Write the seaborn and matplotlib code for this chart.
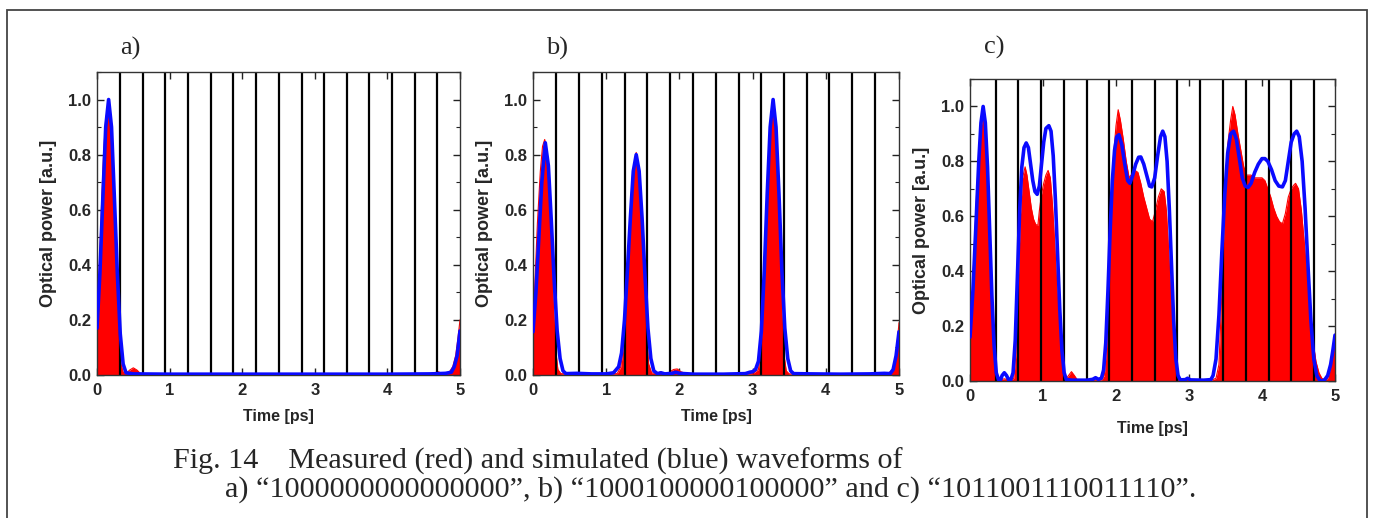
import numpy as np
import pandas as pd
import matplotlib
matplotlib.use("Agg")
import matplotlib.pyplot as plt
import seaborn as sns
from matplotlib.patches import Rectangle
from matplotlib.ticker import MultipleLocator

# ---------------- data ----------------
panel_labels = ["a)", "b)", "c)"]

# panel a -- simulated (blue)
a_sim_t = [0.00, 0.04, 0.08, 0.12, 0.16, 0.20, 0.24, 0.28, 0.32, 0.36, 0.40, 0.50,
           1.00, 2.00, 3.00, 4.00, 4.60, 4.80, 4.88, 4.92, 4.96, 5.00]
a_sim_v = [0.17, 0.37, 0.64, 0.90, 1.00, 0.90, 0.64, 0.37, 0.15, 0.04, 0.008, 0.004,
           0.003, 0.003, 0.003, 0.003, 0.004, 0.006, 0.01, 0.03, 0.07, 0.16]
# panel a -- measured (red)
a_meas_t = [0.00, 0.03, 0.06, 0.09, 0.12, 0.15, 0.18, 0.21, 0.24, 0.27, 0.30, 0.33,
            0.36, 0.40, 0.45, 0.50, 0.55, 0.60, 0.70, 1.50, 2.00, 3.00, 4.00, 4.50,
            4.65, 4.70, 4.75, 4.85, 4.90, 4.94, 4.97, 5.00]
a_meas_v = [0.19, 0.38, 0.60, 0.80, 0.93, 0.97, 0.90, 0.72, 0.50, 0.30, 0.13, 0.04,
            0.01, 0.005, 0.018, 0.026, 0.018, 0.005, 0.002, 0.003, 0.002, 0.002, 0.002, 0.003,
            0.008, 0.012, 0.006, 0.01, 0.03, 0.07, 0.13, 0.20]

# panel b -- simulated (blue)
b_sim_t = [0.00, 0.04, 0.08, 0.12, 0.168, 0.21, 0.25, 0.29, 0.33, 0.37, 0.41, 0.45,
           0.60, 0.80, 1.00, 1.10, 1.17, 1.21, 1.25, 1.29, 1.33, 1.37, 1.41, 1.45,
           1.49, 1.53, 1.57, 1.61, 1.65, 1.70, 1.75, 1.80, 1.90, 1.95, 2.00, 2.20,
           2.60, 2.90, 2.96, 3.00, 3.04, 3.08, 3.12, 3.16, 3.20, 3.24, 3.28, 3.32,
           3.36, 3.40, 3.44, 3.48, 3.52, 3.56, 3.80, 4.20, 4.60, 4.80, 4.88, 4.92,
           4.96, 5.00]
b_sim_v = [0.157, 0.30, 0.50, 0.70, 0.843, 0.76, 0.56, 0.34, 0.16, 0.06, 0.015, 0.005,
           0.006, 0.004, 0.004, 0.008, 0.03, 0.08, 0.20, 0.38, 0.57, 0.74, 0.80, 0.74,
           0.57, 0.36, 0.17, 0.06, 0.015, 0.005, 0.008, 0.004, 0.006, 0.01, 0.006, 0.003,
           0.003, 0.005, 0.01, 0.012, 0.02, 0.05, 0.16, 0.38, 0.66, 0.90, 1.00, 0.90,
           0.66, 0.38, 0.17, 0.06, 0.015, 0.005, 0.004, 0.003, 0.004, 0.006, 0.005, 0.02,
           0.07, 0.157]
# panel b -- measured (red)
b_meas_t = [0.00, 0.03, 0.06, 0.10, 0.13, 0.16, 0.19, 0.22, 0.25, 0.28, 0.31, 0.34,
            0.38, 0.50, 0.65, 0.70, 1.00, 1.15, 1.20, 1.24, 1.28, 1.32, 1.36, 1.41,
            1.45, 1.49, 1.52, 1.55, 1.58, 1.62, 1.70, 1.74, 1.78, 1.85, 1.92, 1.97,
            2.02, 2.10, 2.50, 2.90, 3.00, 3.08, 3.12, 3.16, 3.20, 3.24, 3.28, 3.31,
            3.34, 3.37, 3.40, 3.43, 3.46, 3.50, 4.00, 4.50, 4.85, 4.92, 4.95, 4.98, 5.00]
b_meas_v = [0.19, 0.36, 0.55, 0.74, 0.83, 0.855, 0.80, 0.64, 0.44, 0.24, 0.09, 0.02,
            0.005, 0.003, 0.006, 0.004, 0.003, 0.005, 0.03, 0.12, 0.32, 0.55, 0.73, 0.808,
            0.74, 0.55, 0.35, 0.15, 0.04, 0.008, 0.005, 0.012, 0.006, 0.008, 0.02, 0.022,
            0.012, 0.004, 0.003, 0.004, 0.005, 0.02, 0.12, 0.36, 0.66, 0.90, 0.99, 0.92,
            0.72, 0.46, 0.22, 0.07, 0.015, 0.004, 0.003, 0.004, 0.006, 0.02, 0.06, 0.13, 0.19]

# panel c -- simulated (blue)
c_sim_t = [0.00, 0.04, 0.08, 0.12, 0.15, 0.18, 0.21, 0.24, 0.27, 0.30, 0.33, 0.36,
           0.39, 0.42, 0.44, 0.47, 0.50, 0.53, 0.56, 0.59, 0.62, 0.65, 0.68, 0.71,
           0.74, 0.77, 0.80, 0.83, 0.86, 0.89, 0.92, 0.95, 0.98, 1.01, 1.04, 1.08,
           1.11, 1.14, 1.17, 1.20, 1.23, 1.26, 1.29, 1.32, 1.40, 1.60, 1.68, 1.72,
           1.76, 1.80, 1.83, 1.86, 1.89, 1.92, 1.95, 1.98, 2.01, 2.04, 2.08, 2.12,
           2.16, 2.19, 2.23, 2.27, 2.31, 2.34, 2.38, 2.42, 2.46, 2.49, 2.53, 2.57,
           2.61, 2.64, 2.67, 2.70, 2.73, 2.76, 2.79, 2.82, 2.85, 2.88, 2.95, 2.98,
           3.02, 3.20, 3.30, 3.33, 3.37, 3.41, 3.45, 3.49, 3.53, 3.57, 3.61, 3.65,
           3.69, 3.73, 3.77, 3.81, 3.85, 3.90, 3.95, 4.00, 4.04, 4.08, 4.13, 4.18,
           4.23, 4.28, 4.32, 4.36, 4.40, 4.44, 4.475, 4.51, 4.55, 4.59, 4.63, 4.67,
           4.71, 4.75, 4.79, 4.82, 4.86, 4.90, 4.94, 4.97, 5.00]
c_sim_v = [0.16, 0.33, 0.56, 0.80, 0.94, 1.00, 0.94, 0.78, 0.55, 0.31, 0.13, 0.03,
           0.005, 0.005, 0.02, 0.03, 0.02, 0.004, 0.005, 0.03, 0.15, 0.38, 0.62, 0.78,
           0.85, 0.867, 0.85, 0.79, 0.73, 0.69, 0.68, 0.71, 0.79, 0.87, 0.92, 0.93,
           0.91, 0.82, 0.66, 0.46, 0.26, 0.11, 0.03, 0.005, 0.003, 0.003, 0.006, 0.012,
           0.006, 0.01, 0.04, 0.14, 0.33, 0.55, 0.73, 0.84, 0.89, 0.897, 0.86, 0.79,
           0.73, 0.72, 0.75, 0.79, 0.815, 0.816, 0.79, 0.75, 0.71, 0.707, 0.74, 0.82,
           0.89, 0.91, 0.89, 0.80, 0.63, 0.42, 0.22, 0.08, 0.02, 0.004, 0.005, 0.01,
           0.004, 0.003, 0.005, 0.02, 0.08, 0.24, 0.47, 0.68, 0.83, 0.90, 0.91, 0.88,
           0.81, 0.74, 0.71, 0.705, 0.72, 0.76, 0.79, 0.81, 0.81, 0.80, 0.77, 0.73,
           0.71, 0.707, 0.73, 0.80, 0.87, 0.90, 0.91, 0.89, 0.80, 0.63, 0.42, 0.22,
           0.08, 0.02, 0.003, 0.0, 0.005, 0.02, 0.06, 0.11, 0.167]
# panel c -- measured (red)
c_meas_t = [0.00, 0.03, 0.06, 0.09, 0.12, 0.15, 0.18, 0.21, 0.24, 0.27, 0.30, 0.33,
            0.36, 0.40, 0.47, 0.55, 0.60, 0.63, 0.66, 0.69, 0.72, 0.755, 0.78, 0.81,
            0.84, 0.87, 0.90, 0.93, 0.95, 0.98, 1.01, 1.04, 1.07, 1.10, 1.13, 1.16,
            1.19, 1.22, 1.25, 1.28, 1.31, 1.35, 1.39, 1.43, 1.47, 1.60, 1.80, 1.84,
            1.87, 1.90, 1.93, 1.96, 2.00, 2.03, 2.06, 2.10, 2.14, 2.18, 2.22, 2.26,
            2.30, 2.34, 2.38, 2.42, 2.46, 2.50, 2.54, 2.58, 2.62, 2.66, 2.69, 2.72,
            2.75, 2.78, 2.81, 2.84, 2.88, 2.95, 2.98, 3.02, 3.30, 3.37, 3.41, 3.44,
            3.47, 3.50, 3.53, 3.57, 3.60, 3.63, 3.67, 3.71, 3.75, 3.79, 3.85, 3.90,
            3.95, 4.00, 4.04, 4.08, 4.12, 4.16, 4.20, 4.24, 4.28, 4.32, 4.36, 4.40,
            4.44, 4.46, 4.50, 4.54, 4.58, 4.62, 4.66, 4.70, 4.74, 4.78, 4.82, 4.86,
            4.90, 4.93, 4.96, 5.00]
c_meas_v = [0.15, 0.30, 0.50, 0.68, 0.82, 0.92, 0.973, 0.90, 0.70, 0.45, 0.22, 0.06,
            0.01, 0.003, 0.008, 0.003, 0.01, 0.10, 0.35, 0.60, 0.74, 0.78, 0.75, 0.69,
            0.63, 0.59, 0.57, 0.567, 0.62, 0.68, 0.72, 0.75, 0.767, 0.74, 0.64, 0.50,
            0.34, 0.19, 0.08, 0.02, 0.005, 0.02, 0.034, 0.02, 0.004, 0.002, 0.003, 0.02,
            0.12, 0.35, 0.62, 0.80, 0.93, 0.988, 0.95, 0.88, 0.80, 0.74, 0.755, 0.767,
            0.76, 0.72, 0.67, 0.63, 0.59, 0.58, 0.62, 0.67, 0.70, 0.69, 0.62, 0.48,
            0.31, 0.16, 0.06, 0.01, 0.003, 0.008, 0.012, 0.003, 0.002, 0.01, 0.06, 0.25,
            0.48, 0.73, 0.86, 0.95, 1.00, 0.97, 0.90, 0.84, 0.78, 0.75, 0.75, 0.74,
            0.74, 0.74, 0.73, 0.70, 0.67, 0.63, 0.60, 0.58, 0.573, 0.61, 0.67, 0.70,
            0.715, 0.72, 0.70, 0.62, 0.50, 0.37, 0.25, 0.14, 0.07, 0.03, 0.01, 0.003,
            0.01, 0.04, 0.09, 0.17]

# bit-slot boundaries (vertical black lines) per panel, in ps
a_slots = [0.31, 0.63, 0.94, 1.25, 1.57, 1.88, 2.19, 2.50, 2.82, 3.13, 3.44, 3.75, 4.07, 4.38, 4.69]
b_slots = [0.32, 0.63, 0.94, 1.25, 1.56, 1.87, 2.19, 2.50, 2.81, 3.12, 3.43, 3.74, 4.05, 4.36, 4.67]
c_slots = [0.35, 0.66, 0.97, 1.29, 1.60, 1.91, 2.22, 2.53, 2.84, 3.15, 3.47, 3.78, 4.09, 4.40, 4.71]

x_ticks = [0, 1, 2, 3, 4, 5]
y_ticks = [0.0, 0.2, 0.4, 0.6, 0.8, 1.0]

caption_line1 = "Fig. 14    Measured (red) and simulated (blue) waveforms of"
caption_line2 = "a) \u201c1000000000000000\u201d, b) \u201c1000100000100000\u201d and c) \u201c1011001110011110\u201d."

# ---------------- figure ----------------
sns.set_theme(style="white")
plt.rcParams["font.family"] = ["Liberation Sans", "DejaVu Sans"]

W, H = 1373, 518
fig = plt.figure(figsize=(W / 100, H / 100), dpi=100)
fig.patch.set_facecolor("white")

def px_axes(left, top, right, bottom):
    return fig.add_axes([left / W, 1 - bottom / H, (right - left) / W, (bottom - top) / H])

boxes = [(97, 72, 460, 375), (533, 72, 899, 375), (970, 79, 1335, 381)]
sims = [(a_sim_t, a_sim_v), (b_sim_t, b_sim_v), (c_sim_t, c_sim_v)]
meas = [(a_meas_t, a_meas_v), (b_meas_t, b_meas_v), (c_meas_t, c_meas_v)]
slots = [a_slots, b_slots, c_slots]
title_pos = [(130, 48), (557, 48), (994, 47)]
xlabel_pad = [7.5, 7.5, 12]

serif = ["Liberation Serif", "DejaVu Serif"]

for i in range(3):
    ax = px_axes(*boxes[i])
    mt, mv = meas[i]
    st, sv = sims[i]
    dm = pd.DataFrame({"t": mt, "v": mv})
    ds = pd.DataFrame({"t": st, "v": sv})
    ax.fill_between(dm["t"], 0, dm["v"], color="#ff0000", lw=0, zorder=1)
    sns.lineplot(data=dm, x="t", y="v", ax=ax, color="#ff0000", lw=0.8, zorder=1.5,
                 estimator=None, sort=False)
    for s in slots[i]:
        ax.axvline(s, color="black", lw=1.6, zorder=2)
    sns.lineplot(data=ds, x="t", y="v", ax=ax, color="#0a0aff", lw=2.6, zorder=3,
                 estimator=None, sort=False)
    ax.set_xlim(0, 5)
    ax.set_ylim(0, 1.1)
    ax.set_xticks(x_ticks)
    ax.set_xticklabels([str(x) for x in x_ticks])
    ax.set_yticks(y_ticks)
    ax.set_yticklabels([f"{y:.1f}" for y in y_ticks])
    ax.yaxis.set_minor_locator(MultipleLocator(0.1))
    ax.tick_params(axis="both", which="both", direction="in", top=True, right=True,
                   bottom=True, left=True, color="#222222")
    ax.tick_params(axis="both", which="major", length=5, width=1.0,
                   labelsize=12, pad=4)
    ax.tick_params(axis="x", which="major", pad=6)
    ax.tick_params(axis="both", which="minor", length=3, width=0.8)
    for lab in ax.get_xticklabels() + ax.get_yticklabels():
        lab.set_fontweight("bold")
    for sp in ax.spines.values():
        sp.set_visible(True)
        sp.set_color("#333333")
        sp.set_linewidth(1.0)
    ax.set_xlabel("Time [ps]", fontsize=11.5, fontweight="bold", labelpad=xlabel_pad[i])
    ax.set_ylabel("Optical power [a.u.]", fontsize=13, fontweight="bold", labelpad=8)
    ax.set_facecolor("white")
    tx, ty = title_pos[i]
    fig.text(tx / W, 1 - ty / H, panel_labels[i], ha="center", va="center",
             fontsize=19, family=serif)

# outer frame
fig.patches.append(Rectangle((7 / W, -0.05), 1360 / W, 1.05 - 10 / H, transform=fig.transFigure,
                             fill=False, edgecolor="#444444", lw=1.3))

fig.text(173 / W, 1 - 469 / H, caption_line1, ha="left", va="baseline",
         fontsize=21.7, family=serif)
fig.text(225 / W, 1 - 497 / H, caption_line2, ha="left", va="baseline",
         fontsize=21.7, family=serif)

fig.savefig("out.png", dpi=100, facecolor="white")
